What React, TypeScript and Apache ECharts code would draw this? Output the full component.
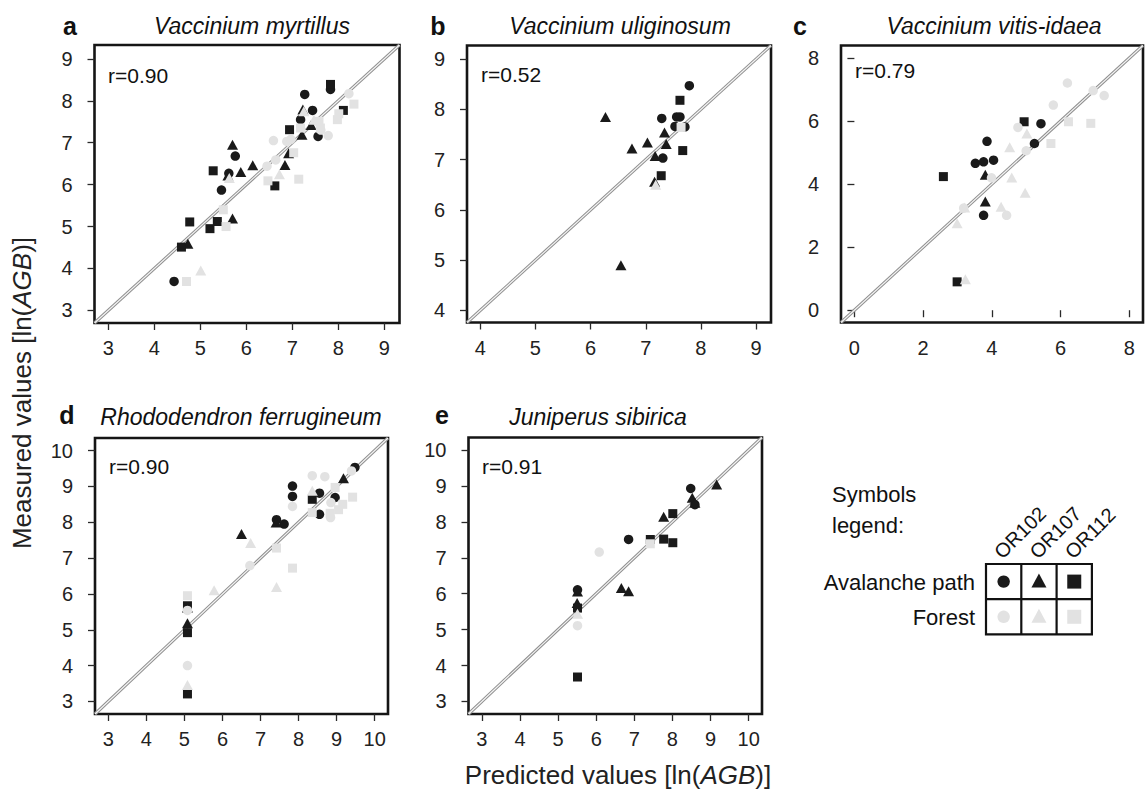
import React, { useEffect, useRef } from "react";
import * as echarts from "echarts";

// ---------------- data ----------------
const panelLetters = ["a", "b", "c", "d", "e"];
const panelTitles = [
  "Vaccinium myrtillus",
  "Vaccinium uliginosum",
  "Vaccinium vitis-idaea",
  "Rhododendron ferrugineum",
  "Juniperus sibirica",
];
const rLabels = ["r=0.90", "r=0.52", "r=0.79", "r=0.90", "r=0.91"];
const axisLimits = [
  [2.7, 9.33],
  [3.76, 9.27],
  [-0.39, 8.4],
  [2.65, 10.35],
  [2.65, 10.35],
];
const ticksA = [3, 4, 5, 6, 7, 8, 9];
const ticksB = [4, 5, 6, 7, 8, 9];
const ticksC = [0, 2, 4, 6, 8];
const ticksD = [3, 4, 5, 6, 7, 8, 9, 10];
const ticksE = [3, 4, 5, 6, 7, 8, 9, 10];
const panelTicks = [ticksA, ticksB, ticksC, ticksD, ticksE];

const sites = ["OR102", "OR107", "OR112"];
const habitats = ["Avalanche path", "Forest"];

// [predicted, measured]
const aAv102 = [[4.43, 3.69], [5.46, 5.87], [5.76, 6.68], [5.62, 6.27], [7.18, 7.55], [7.44, 7.77], [7.27, 8.15], [7.56, 7.15], [7.83, 8.27]];
const aAv107 = [[5.7, 6.95], [5.6, 6.22], [5.88, 6.3], [6.14, 6.46], [5.7, 5.19], [4.73, 4.59], [6.84, 6.47], [6.92, 6.75], [7.21, 7.19], [7.23, 7.79], [7.41, 7.42]];
const aAv112 = [[5.28, 6.33], [5.37, 5.12], [5.21, 4.95], [4.77, 5.11], [4.59, 4.51], [6.62, 5.97], [6.94, 7.31], [7.83, 8.39], [8.11, 7.77]];
const aFo102 = [[6.59, 7.05], [6.45, 6.44], [6.64, 6.59], [6.88, 7.03], [6.97, 7.08], [7.78, 7.17], [8.23, 8.17], [7.62, 7.3]];
const aFo107 = [[5.63, 6.16], [5.01, 3.95], [6.72, 6.25], [7.25, 7.75], [7.47, 7.55]];
const aFo112 = [[5.5, 5.4], [5.56, 5.0], [4.7, 3.69], [6.47, 6.09], [7.14, 6.13], [7.03, 6.76], [7.18, 7.35], [7.58, 7.51], [7.61, 7.35], [8.34, 7.92], [7.98, 7.55], [8.01, 7.69]];

const bAv102 = [[7.29, 7.82], [7.31, 7.03], [7.56, 7.85], [7.62, 7.85], [7.53, 7.66], [7.71, 7.65], [7.79, 8.47]];
const bAv107 = [[6.27, 7.85], [6.75, 7.22], [7.03, 7.34], [7.17, 7.07], [7.34, 7.54], [7.37, 7.31], [6.55, 4.9], [7.16, 6.56]];
const bAv112 = [[7.62, 8.18], [7.67, 7.18], [7.28, 6.68]];
const bFo102: number[][] = [];
const bFo107 = [[7.18, 6.5]];
const bFo112 = [[7.64, 7.64]];

const cAv102 = [[3.76, 3.01], [3.52, 4.66], [3.76, 4.71], [4.05, 4.76], [3.86, 5.36], [5.24, 5.29], [5.43, 5.92]];
const cAv107 = [[3.81, 3.45], [3.81, 4.3]];
const cAv112 = [[2.59, 4.24], [2.99, 0.9], [4.94, 5.98]];
const cFo102 = [[3.99, 4.2], [4.43, 3.01], [4.76, 5.8], [5.0, 5.06], [5.79, 6.51], [6.2, 7.21], [6.95, 6.97], [7.27, 6.81], [3.18, 3.24]];
const cFo107 = [[3.23, 0.98], [2.99, 2.76], [3.21, 3.26], [4.27, 3.28], [4.58, 4.21], [4.52, 5.17], [4.97, 3.73], [5.02, 5.61]];
const cFo112 = [[5.72, 5.29], [6.23, 5.98], [6.88, 5.93]];

const dAv102 = [[7.42, 8.07], [7.62, 7.95], [7.84, 9.01], [7.84, 8.72], [8.55, 8.81], [8.55, 8.22], [8.96, 8.69], [9.48, 9.53]];
const dAv107 = [[5.08, 5.62], [5.08, 5.18], [6.5, 7.67], [7.41, 7.99], [9.18, 9.23]];
const dAv112 = [[5.08, 5.67], [5.08, 4.92], [5.08, 3.21], [8.36, 8.64]];
const dFo102 = [[5.08, 5.54], [5.08, 4.0], [6.72, 6.79], [7.84, 8.44], [8.36, 9.3], [8.69, 9.27], [8.85, 8.55], [8.84, 8.13], [9.39, 9.43]];
const dFo107 = [[5.08, 3.46], [5.78, 6.1], [6.74, 7.42], [7.42, 6.19], [8.36, 8.88]];
const dFo112 = [[5.08, 5.95], [7.42, 7.28], [7.84, 6.72], [8.36, 8.27], [8.83, 8.25], [9.05, 8.35], [9.16, 8.5], [8.96, 8.97], [9.42, 8.7]];

const eAv102 = [[5.51, 6.11], [6.85, 7.51], [8.48, 8.93], [8.59, 8.48]];
const eAv107 = [[5.51, 6.06], [5.5, 5.74], [6.66, 6.16], [6.85, 6.07], [7.77, 8.14], [8.52, 8.67], [8.59, 8.53], [9.16, 9.04]];
const eAv112 = [[5.51, 5.6], [5.51, 3.68], [7.42, 7.51], [8.01, 8.23], [7.77, 7.52], [8.01, 7.42]];
const eFo102 = [[5.51, 5.11], [6.08, 7.16]];
const eFo107 = [[5.51, 5.44]];
const eFo112 = [[7.42, 7.39]];

const panelData = [
  [aAv102, aAv107, aAv112, aFo102, aFo107, aFo112],
  [bAv102, bAv107, bAv112, bFo102, bFo107, bFo112],
  [cAv102, cAv107, cAv112, cFo102, cFo107, cFo112],
  [dAv102, dAv107, dAv112, dFo102, dFo107, dFo112],
  [eAv102, eAv107, eAv112, eFo102, eFo107, eFo112],
];

// ---------------- styling / layout ----------------
const FONT = '"Liberation Sans", Arial, Helvetica, sans-serif';
const BLACK = "#1a1a1a";
const GREY = "#e2e2e2";
const symbols = ["circle", "triangle", "rect"];
const symbolSizes: any[] = [9.5, [11, 10], 9];

const grids = [
  { left: 94.5, top: 45, width: 305, height: 278 },
  { left: 467, top: 45.5, width: 304, height: 277 },
  { left: 841, top: 45.5, width: 302, height: 277 },
  { left: 95, top: 438, width: 293, height: 276 },
  { left: 468.5, top: 437.5, width: 293.5, height: 276.5 },
];
const titlePos = [
  [252, 26],
  [620, 26],
  [994, 26],
  [241, 417],
  [598, 417],
];
const letterPos = [
  [70, 26],
  [438, 26],
  [800, 26],
  [67, 415],
  [442, 415],
];
const rPos = [
  [108, 75],
  [481, 74],
  [855, 70],
  [109, 466],
  [482, 466],
];

function buildOption() {
  const grid: any[] = [];
  const xAxis: any[] = [];
  const yAxis: any[] = [];
  const series: any[] = [];
  const graphic: any[] = [];

  panelData.forEach((groups, i) => {
    const g = grids[i];
    grid.push({
      left: g.left,
      top: g.top,
      width: g.width,
      height: g.height,
      show: true,
      borderColor: "#151515",
      borderWidth: 2.6,
      backgroundColor: "#fff",
      containLabel: false,
    });
    const [lo, hi] = axisLimits[i];
    const ticks = panelTicks[i];
    const common = {
      type: "value",
      gridIndex: i,
      min: lo,
      max: hi,
      splitLine: { show: false },
      axisLine: { show: false },
      axisTick: {
        show: true,
        length: 7,
        lineStyle: { color: "#2a2a2a", width: 1.3 },
        customValues: ticks,
      },
    };
    xAxis.push({
      ...common,
      position: "bottom",
      axisLabel: {
        customValues: ticks,
        fontSize: 20,
        fontFamily: FONT,
        color: "#222",
        margin: 15,
      },
    });
    yAxis.push({
      ...common,
      position: "left",
      axisLabel: {
        customValues: ticks,
        fontSize: 20,
        fontFamily: FONT,
        color: "#222",
        margin: 22,
      },
    });

    // 1:1 line (double line look)
    series.push({
      type: "line",
      xAxisIndex: i,
      yAxisIndex: i,
      data: [
        [lo, lo],
        [hi, hi],
      ],
      symbol: "none",
      silent: true,
      lineStyle: { color: "#8e8e8e", width: 3.2 },
      z: 1,
    });
    series.push({
      type: "line",
      xAxisIndex: i,
      yAxisIndex: i,
      data: [
        [lo, lo],
        [hi, hi],
      ],
      symbol: "none",
      silent: true,
      lineStyle: { color: "#f4f4f4", width: 1.2 },
      z: 2,
    });

    groups.forEach((pts, k) => {
      const habitat = k < 3 ? 0 : 1;
      const site = k % 3;
      series.push({
        type: "scatter",
        name: `${sites[site]} ${habitats[habitat]}`,
        xAxisIndex: i,
        yAxisIndex: i,
        data: pts,
        symbol: symbols[site],
        symbolSize: symbolSizes[site],
        itemStyle: { color: habitat === 0 ? BLACK : GREY, opacity: 1 },
        z: 3 + habitat,
      });
    });

    graphic.push({
      type: "text",
      x: titlePos[i][0],
      y: titlePos[i][1],
      style: {
        text: panelTitles[i],
        fontSize: 23,
        fontStyle: "italic",
        fontFamily: FONT,
        fill: "#111",
        align: "center",
        verticalAlign: "middle",
      },
    });
    graphic.push({
      type: "text",
      x: letterPos[i][0],
      y: letterPos[i][1],
      style: {
        text: panelLetters[i],
        fontSize: 25,
        fontWeight: "bold",
        fontFamily: FONT,
        fill: "#111",
        align: "center",
        verticalAlign: "middle",
      },
    });
    graphic.push({
      type: "text",
      x: rPos[i][0],
      y: rPos[i][1],
      z: 10,
      style: {
        text: rLabels[i],
        fontSize: 21,
        fontFamily: FONT,
        fill: "#111",
        align: "left",
        verticalAlign: "middle",
      },
    });
  });

  // axis titles
  const richBase = { fontSize: 26, fontFamily: FONT, fill: "#222" };
  graphic.push({
    type: "text",
    x: 22,
    y: 393,
    rotation: Math.PI / 2,
    style: {
      text: "{n|Measured values [ln(}{i|AGB}{n|)]}",
      align: "center",
      verticalAlign: "middle",
      rich: { n: { ...richBase }, i: { ...richBase, fontStyle: "italic" } },
    },
  });
  graphic.push({
    type: "text",
    x: 618,
    y: 775,
    style: {
      text: "{n|Predicted values [ln(}{i|AGB}{n|)]}",
      align: "center",
      verticalAlign: "middle",
      rich: { n: { ...richBase }, i: { ...richBase, fontStyle: "italic" } },
    },
  });

  // symbols legend
  const legTxt = { fontSize: 22, fontFamily: FONT, fill: "#111" };
  graphic.push({ type: "text", x: 832, y: 494, style: { ...legTxt, text: "Symbols", align: "left", verticalAlign: "middle" } });
  graphic.push({ type: "text", x: 832, y: 525, style: { ...legTxt, text: "legend:", align: "left", verticalAlign: "middle" } });
  graphic.push({ type: "text", x: 975, y: 582, style: { ...legTxt, text: habitats[0], align: "right", verticalAlign: "middle" } });
  graphic.push({ type: "text", x: 975, y: 617, style: { ...legTxt, text: habitats[1], align: "right", verticalAlign: "middle" } });

  const tblX = 986;
  const tblY = 564;
  const cw = 35.3;
  const ch = 35.2;
  sites.forEach((s, k) => {
    graphic.push({
      type: "text",
      x: tblX + cw * k + cw / 2 - 6,
      y: tblY - 9,
      rotation: Math.PI / 4,
      style: { ...legTxt, fontSize: 20, text: s, align: "left", verticalAlign: "middle" },
    });
  });
  for (let r = 0; r < 2; r++) {
    for (let k = 0; k < 3; k++) {
      const cx = tblX + cw * k + cw / 2;
      const cy = tblY + ch * r + ch / 2;
      const color = r === 0 ? BLACK : GREY;
      if (k === 0) {
        graphic.push({ type: "circle", shape: { cx, cy, r: 6.2 }, style: { fill: color } });
      } else if (k === 1) {
        graphic.push({
          type: "polygon",
          shape: { points: [[cx, cy - 8], [cx + 7.5, cy + 6], [cx - 7.5, cy + 6]] },
          style: { fill: color },
        });
      } else {
        graphic.push({ type: "rect", shape: { x: cx - 7, y: cy - 7, width: 14, height: 14 }, style: { fill: color } });
      }
    }
  }
  graphic.push({
    type: "rect",
    shape: { x: tblX, y: tblY, width: cw * 3, height: ch * 2 },
    style: { fill: "none", stroke: "#111", lineWidth: 2.2 },
  });
  for (let k = 1; k < 3; k++) {
    graphic.push({
      type: "line",
      shape: { x1: tblX + cw * k, y1: tblY, x2: tblX + cw * k, y2: tblY + ch * 2 },
      style: { stroke: "#111", lineWidth: 2.2 },
    });
  }
  graphic.push({
    type: "line",
    shape: { x1: tblX, y1: tblY + ch, x2: tblX + cw * 3, y2: tblY + ch },
    style: { stroke: "#111", lineWidth: 2.2 },
  });

  return {
    animation: false,
    backgroundColor: "#ffffff",
    textStyle: { fontFamily: FONT },
    grid,
    xAxis,
    yAxis,
    series,
    graphic,
  };
}

export default function App() {
  const ref = useRef<HTMLDivElement>(null);
  useEffect(() => {
    const chart = echarts.init(ref.current!, null, { renderer: "svg" });
    chart.setOption(buildOption() as any);
    return () => chart.dispose();
  }, []);
  return (
    <div
      ref={ref}
      style={{ position: "absolute", left: 0, top: 0, width: 1145, height: 792, background: "#fff" }}
    />
  );
}
